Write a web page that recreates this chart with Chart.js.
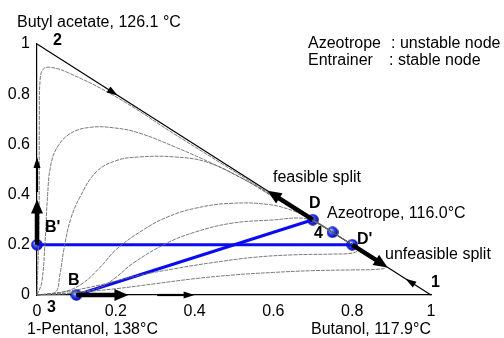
<!DOCTYPE html>
<html>
<head>
<meta charset="utf-8">
<script src="https://cdn.jsdelivr.net/npm/chart.js@4.4.0/dist/chart.umd.min.js"></script>
<style>
  html, body { margin: 0; padding: 0; background: #fff; }
  #wrap { width: 504px; height: 338px; }
</style>
</head>
<body>
<div id="wrap"><canvas id="triChart" width="504" height="338"></canvas></div>
<script>
// axis ticks
const tickValues = [0, 0.2, 0.4, 0.6, 0.8, 1];

// triangle edge Butyl acetate (2) -> Butanol (1)
const edgeLine = [[0, 1], [1, 0]];

// residue curves, x = butanol, y = butyl acetate
const curveU1 = [[0, 0], [0.005, 0.3], [0.006, 0.7], [0.008, 0.86], [0.016, 0.9], [0.035, 0.907], [0.08, 0.885], [0.2, 0.79], [0.35, 0.64], [0.5, 0.493], [0.65, 0.347], [0.75, 0.25]];
const curveU2 = [[0, 0], [0.012, 0.05], [0.02, 0.2], [0.027, 0.4], [0.034, 0.51], [0.05, 0.585], [0.084, 0.643], [0.135, 0.668], [0.2, 0.665], [0.26, 0.645], [0.35, 0.59], [0.45, 0.52], [0.55, 0.44], [0.65, 0.345], [0.75, 0.25]];
const curveU3 = [[0, 0], [0.046, 0.01], [0.058, 0.08], [0.068, 0.18], [0.085, 0.3], [0.109, 0.39], [0.15, 0.49], [0.2, 0.535], [0.26, 0.55], [0.35, 0.55], [0.43, 0.53], [0.52, 0.465], [0.6, 0.39], [0.68, 0.315], [0.75, 0.25]];
const curveU4 = [[0, 0], [0.06, 0.01], [0.11, 0.04], [0.16, 0.11], [0.2, 0.18], [0.27, 0.26], [0.33, 0.31], [0.4, 0.345], [0.49, 0.365], [0.59, 0.36], [0.66, 0.33], [0.7, 0.3], [0.75, 0.25]];
const curveU5 = [[0, 0], [0.08, 0.005], [0.16, 0.03], [0.2, 0.07], [0.244, 0.127], [0.33, 0.207], [0.4, 0.25], [0.49, 0.285], [0.59, 0.298], [0.69, 0.302], [0.75, 0.25]];
const curveL1 = [[0, 0], [0.08, 0.015], [0.16, 0.04], [0.25, 0.075], [0.35, 0.105], [0.45, 0.13], [0.55, 0.15], [0.65, 0.16], [0.75, 0.163], [0.8, 0.167], [0.815, 0.18], [0.8, 0.2], [0.75, 0.25]];
const curveL2 = [[0, 0], [0.1, 0.01], [0.2, 0.025], [0.3, 0.045], [0.4, 0.065], [0.5, 0.08], [0.6, 0.09], [0.7, 0.097], [0.8, 0.1], [0.86, 0.102], [0.885, 0.11], [0.86, 0.14], [0.8, 0.2], [0.75, 0.25]];
const residueCurves = [curveU1, curveU2, curveU3, curveU4, curveU5, curveL1, curveL2];

// material balance lines
const splitFeasible = [[0.1, 0], [0.7, 0.3]];
const splitUnfeasible = [[0, 0.2], [0.8, 0.2]];

// marked compositions: B, B', D, azeotrope 4, D'
const markPoints = [[0.1, 0], [0, 0.2], [0.7, 0.3], [0.75, 0.25], [0.8, 0.2]];

// arrows [fromX, fromY, toX, toY]
const thickArrows = [[0, 0.2, 0, 0.38], [0.1, 0, 0.232, 0], [0.7, 0.3, 0.585, 0.415], [0.8, 0.2, 0.89, 0.11]];
const axisArrows = [[0, 0.41, 0, 0.55], [0.305, 0, 0.4, 0]];
const edgeArrows = [[0.15, 0.85, 0.205, 0.795], [0.98, 0.02, 0.935, 0.065]];

const FONT = "Liberation Sans, Arial, sans-serif";

const toXY = (arr) => arr.map(([x, y]) => ({ x: x, y: y }));

// shaded blue ball used as point style
const ball = document.createElement("canvas");
ball.width = 12;
ball.height = 12;
(function () {
    const c = ball.getContext("2d");
    const g = c.createRadialGradient(4.2, 4, 0.5, 6, 6, 6);
    g.addColorStop(0, "#dfe6ff");
    g.addColorStop(0.3, "#4d66ff");
    g.addColorStop(0.8, "#0a14c8");
    g.addColorStop(1, "#00007a");
    c.fillStyle = g;
    c.beginPath();
    c.arc(6, 6, 5.8, 0, Math.PI * 2);
    c.fill();
})();

function arrowHead(ctx, x1, y1, x2, y2, len, half) {
    const a = Math.atan2(y2 - y1, x2 - x1);
    ctx.beginPath();
    ctx.moveTo(x2, y2);
    ctx.lineTo(x2 - len * Math.cos(a) + half * Math.sin(a), y2 - len * Math.sin(a) - half * Math.cos(a));
    ctx.lineTo(x2 - len * Math.cos(a) - half * Math.sin(a), y2 - len * Math.sin(a) + half * Math.cos(a));
    ctx.closePath();
    ctx.fill();
}

function arrow(ctx, x1, y1, x2, y2, shaft, len, half) {
    const a = Math.atan2(y2 - y1, x2 - x1);
    ctx.lineWidth = shaft;
    ctx.lineCap = "butt";
    ctx.beginPath();
    ctx.moveTo(x1, y1);
    ctx.lineTo(x2 - (len - 1) * Math.cos(a), y2 - (len - 1) * Math.sin(a));
    ctx.stroke();
    arrowHead(ctx, x1, y1, x2, y2, len, half);
}

const decorations = {
    id: "decorations",
    afterDatasetsDraw(chart) {
        const ctx = chart.ctx;
        const sx = chart.scales.x, sy = chart.scales.y;
        const px = (v) => sx.getPixelForValue(v);
        const py = (v) => sy.getPixelForValue(v);
        ctx.save();
        ctx.fillStyle = "#000";
        ctx.strokeStyle = "#000";
        thickArrows.forEach(([a, b, c, d]) => arrow(ctx, px(a), py(b), px(c), py(d), 4.5, 14, 6));
        axisArrows.forEach(([a, b, c, d]) => arrow(ctx, px(a), py(b), px(c), py(d), 2.2, 11, 3.5));
        edgeArrows.forEach(([a, b, c, d]) => arrowHead(ctx, px(a), py(b), px(c), py(d), 11, 3.5));

        ctx.textBaseline = "alphabetic";
        ctx.textAlign = "left";
        ctx.font = "16px " + FONT;
        ctx.fillText("Butyl acetate, 126.1 °C", 17, 27);
        ctx.fillText("Azeotrope", 308, 48);
        ctx.fillText(": unstable node", 391, 48);
        ctx.fillText("Entrainer", 308, 65);
        ctx.fillText(": stable node", 389, 65);
        ctx.fillText("feasible split", 273, 182);
        ctx.fillText("Azeotrope, 116.0°C", 327, 218);
        ctx.fillText("unfeasible split", 385, 259);
        ctx.fillText("1-Pentanol, 138°C", 27, 334);
        ctx.fillText("Butanol, 117.9°C", 311, 334);

        ctx.font = "bold 16px " + FONT;
        ctx.fillText("2", 53, 45);
        ctx.fillText("D", 309, 208);
        ctx.fillText("4", 314, 238);
        ctx.fillText("D'", 357, 244);
        ctx.fillText("1", 431, 287);
        ctx.fillText("B'", 45, 232);
        ctx.fillText("B", 68, 285);
        ctx.fillText("3", 47, 312);
        ctx.restore();
    },
};

const datasets = [];
residueCurves.forEach((c) => {
    datasets.push({
        data: toXY(c),
        showLine: true,
        borderColor: "#6c6c6c",
        borderWidth: 0.9,
        borderDash: [4, 1],
        tension: 0.4,
        pointRadius: 0,
        clip: false,
    });
});
datasets.push({
    data: toXY(edgeLine),
    showLine: true,
    borderColor: "#000",
    borderWidth: 1.2,
    pointRadius: 0,
    clip: false,
});
[splitFeasible, splitUnfeasible].forEach((s) => {
    datasets.push({
        data: toXY(s),
        showLine: true,
        borderColor: "#0a0af5",
        borderWidth: 3,
        pointRadius: 0,
        clip: false,
    });
});
datasets.push({
    data: toXY(markPoints),
    showLine: false,
    pointStyle: ball,
    pointRadius: 6,
    clip: false,
});

const axisCommon = {
    type: "linear",
    min: 0,
    max: 1,
    grid: { display: false, drawTicks: false },
    border: { display: true, color: "#000", width: 1.2 },
    ticks: {
        stepSize: 0.2,
        color: "#000",
        font: { family: FONT, size: 16 },
        callback: (v) => (tickValues.includes(Math.round(v * 10) / 10) ? String(Math.round(v * 10) / 10) : ""),
    },
};

new Chart(document.getElementById("triChart"), {
    type: "scatter",
    data: { datasets: datasets },
    options: {
        responsive: false,
        animation: false,
        layout: { padding: { left: 0, right: 73, top: 44, bottom: 0 } },
        plugins: { legend: { display: false }, tooltip: { enabled: false } },
        scales: {
            x: Object.assign({}, axisCommon, {
                ticks: Object.assign({}, axisCommon.ticks, { padding: 7, maxRotation: 0 }),
                afterFit: (s) => { s.height = 43; },
            }),
            y: Object.assign({}, axisCommon, {
                ticks: Object.assign({}, axisCommon.ticks, { padding: 7 }),
                afterFit: (s) => { s.width = 37; },
            }),
        },
    },
    plugins: [decorations],
});
</script>
</body>
</html>
